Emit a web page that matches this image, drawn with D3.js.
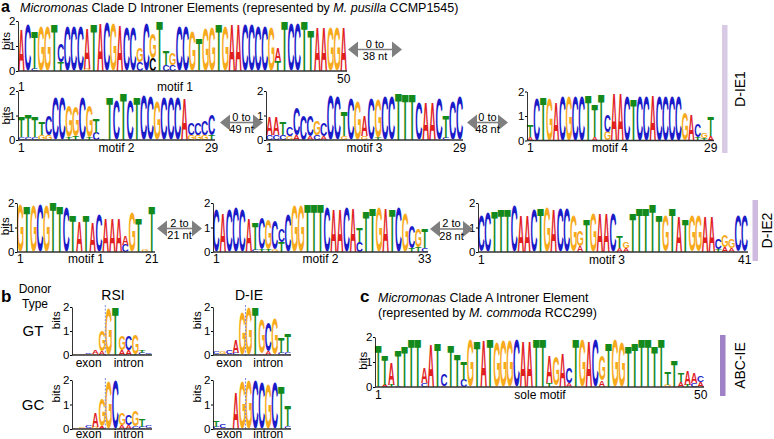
<!DOCTYPE html>
<html><head><meta charset="utf-8">
<script src="https://cdn.jsdelivr.net/npm/d3@7"></script>
<style>
body{margin:0;background:#fff}
svg{display:block}
</style>
</head><body>
<svg id="chart" width="774" height="439"></svg>
<script>
// ---------------- DATA (each column: "<letter><bits>" tokens; "*" = letter drawn in black) ----------------
const dIE1Motif1 = ["A1.65","C1.85","T1.5 C.1","G1.8","G1.8","T1.85","C.75 T.35","C1.8","C1.8","C1.8",
 "A1.6 G.1","T1.85","A1.9","C1.95","G1.9","A1.8","C1.75","C1.75","G.6 C.35","C1.9",
 "G1.0 C*.5","T1.95","T.55 C.25","G.45 C.25","C1.8","C1.8","G1.6","T1.25 G.06","G1.7","G1.75",
 "T1.85","G1.8","A1.85","A1.85","C1.85","C1.85","C1.8","C1.8","G1.75","A.5 T.4",
 "T1.95","C1.9","C1.9","T1.95","T1.6","A1.75","A1.75","G1.75","G1.75","A1.75"];
const dIE1Motif2 = ["T.85 C.12","T.9 C.12","T.85 C.12","T.55 G.2","C.8 G.2","C1.7","C1.7","G1.3 T.1","G1.25 T.15","C1.7",
 "G1.3 T.1","T.6 C.3","T.05","T1.75","C1.6","T1.9","C1.6","T1.75","C1.8","C1.75",
 "G1.55","C1.7","C1.7","C1.7","A1.7","C.5 G.2","C.5 G.2","C.6 G.2","C.85 T.2"];
const dIE1Motif3 = ["A.75 C.2","A.75 C.2","T.55 C.2","C.35 G.15","C1.15 A.2","C1.0","C.85 A.15","G.6 C.2","C.55 A.15","C1.8",
 "C1.75","T1.0 G.15","C1.65","G1.55","A.85 G.15","C1.65","G1.55 T.1","C1.75","C1.75","T1.9",
 "T1.85","T1.85","C1.5","A1.55","A1.55","C1.65","T.9 C.1","C1.55","C1.75"];
const dIE1Motif4 = ["T.45 A.15","C1.7","T1.8","G1.7","A1.6","C1.85","G1.8","C1.85","C1.85","T1.85",
 "T1.3 A.15","T1.9","C.7 G.35","A1.95","A1.95","C1.85","T1.7","C1.85","C1.85","A1.85",
 "C1.85","C1.85","C1.85","C1.85","G1.15","A1.05","C.55 T.15","G.2 T.1","T.8 A.2"];
const dIE2Motif1 = ["G1.95","T1.85","G1.9","C1.95","G1.9","T2.0","T1.85","C1.8","T1.5","A1.2 G.05",
 "T1.5","A1.2","C1.5","A1.35","A1.35","A1.35","A.35 C.3","G1.6","T1.35","G.1","T1.85"];
const dIE2Motif2 = ["C1.7","A1.6","C1.7","C1.8","C1.7","A1.4","T1.1 C.1","C1.3 T.1","G1.25 T.1","C1.2 G.1",
 "C.55 T.4","C1.5","G1.9","G1.9","T1.95","T1.95","T1.95","C1.85","A1.75","A1.75",
 "C1.85","A1.8","T.6 C.4","T1.65","T1.8","G1.8","A1.8","T1.75","C1.8","G1.55",
 "C.9 T.15","G.75 T.2","T.8 C.15"];
const dIE2Motif3 = ["C1.45","C1.6","T1.65","T1.75","T1.75","C1.9","A1.5","A1.5","C1.7","T1.8",
 "G1.85","A1.75","C1.75","C1.75","G1.45","G.65 A.25","T1.3","G1.55","A1.6","A1.6",
 "C1.55","T.45 A.15","G.25 A.15","T1.6","T1.8","T1.8","T1.95","T1.5","G1.45","T1.8",
 "A1.45","T1.3","G1.45","G1.45","A1.45","A1.45","C.4 T.1","G.5 A.2","G.35 A.15","C1.45",
 "C1.45"];
const rsiGT = ["G.03","A.04","C.05 G.03","A.15 G.05","G.85 A.15","G1.9","T2.0","G.6 A.2","C.6 A.2","G.8 T.05","T.12 C.08","C.06 T.03"];
const dieGT = ["C.08 T.05","G.1 C.05","C.15 A.05","A.55 C.1","G1.75","G1.95","T2.0","G1.45 A.05","C1.2 A.15","G1.5","T.65 C.1","T.75 C.12"];
const rsiGC = ["A.03","G.05 A.03","C.1 A.05","A.6 G.1","G1.15 A.1","G1.95","C2.0","G.5 A.15","C.45 A.15","G.65 C.1","T.3 C.1","C.12 A.05"];
const dieGC = ["T.25 C.1","C.15 A.05","C.05","A1.5","G1.95","G2.0","C2.0","C1.9","G1.85","C1.9","T1.75","T.85 C.12"];
const abcIE = ["T1.65","T1.2 A.1","A.9 T.1","T1.4 C.05","T1.6","T1.9","T1.9","A.6 C.15","A1.7","T1.75",
 "C.45 A.05","T1.65","T1.3","T.7 C.3","G1.9","T1.8","A1.85","T1.9","G1.8","G1.85",
 "G1.85","C1.9","A1.8","A1.8","T1.9","T1.9","A1.1 T.15","G1.15 A.05","A1.35","C.65 A.15",
 "T1.9","G1.9","A1.8","C1.9","G1.0 A.25","T1.75","G1.9","G1.8","T1.6","T1.75",
 "T1.9","T1.9","T1.6","T1.9","T.5 G.1","T1.05","T.35 A.2","A.55 T.1","A.4 C.15","C.25 A.2"];
const bitTicks = [0, 1, 2];
const gapLabels = [["0 to","38 nt"],["0 to","49 nt"],["0 to","48 nt"],["2 to","21 nt"],["2 to","28 nt"]];

// ---------------- RENDERING ----------------
const FONT = "'Liberation Sans', Arial, Helvetica, sans-serif";
const colors = {A:"#e0201e", C:"#1a1ac8", G:"#f7aa1c", T:"#148a1c"};
const svg = d3.select("#chart");
svg.append("rect").attr("width",774).attr("height",439).attr("fill","#fff");

const ctx = document.createElement("canvas").getContext("2d");
ctx.font = "bold 100px " + FONT;
const metrics = {};
"ACGT".split("").forEach(l => {
  const m = ctx.measureText(l);
  metrics[l] = {l:m.actualBoundingBoxLeft, r:m.actualBoundingBoxRight, a:m.actualBoundingBoxAscent, d:m.actualBoundingBoxDescent};
});

function parseCol(s){
  return s.split(" ").map(t => {
    const black = t[1] === "*";
    return {letter:t[0], black, bits:+t.slice(black ? 2 : 1)};
  }).sort((a,b)=>a.bits-b.bits);
}

function txt(g, s, x, y, size, opts={}){
  const t = g.append("text").attr("x",x).attr("y",y).attr("font-family",FONT)
    .attr("font-size",size).attr("fill",opts.fill||"#000")
    .attr("text-anchor",opts.anchor||"start").text(s);
  if(opts.weight) t.attr("font-weight",opts.weight);
  if(opts.style) t.attr("font-style",opts.style);
  return t;
}

function drawLogo(cfg){
  const n = cfg.cols.length;
  const g = svg.append("g");
  const x = d3.scaleBand().domain(d3.range(n)).range([cfg.x0, cfg.x1]).paddingInner(0.03).paddingOuter(0.02);
  const y = d3.scaleLinear().domain([0,2]).range([cfg.base, cfg.top]);
  const w = x.bandwidth();
  cfg.cols.map(parseCol).forEach((st,i) => {
    let acc = 0;
    st.forEach(s => {
      const y0 = y(acc), y1 = y(acc + s.bits);
      acc += s.bits;
      const h = y0 - y1;
      if (h < 0.5) return;
      const m = metrics[s.letter];
      const sx = w/(m.l+m.r), sy = h/(m.a+m.d);
      g.append("text").text(s.letter)
        .attr("font-family",FONT).attr("font-weight","bold").attr("font-size",100)
        .attr("fill",s.black ? "#000" : colors[s.letter])
        .attr("transform",`translate(${x(i)+m.l*sx},${y0-m.d*sy}) scale(${sx},${sy})`);
    });
  });
  if (cfg.split != null){
    const xs = cfg.x0 + (cfg.x1-cfg.x0)*cfg.split/n;
    g.append("line").attr("x1",xs).attr("x2",xs).attr("y1",y(2.08)).attr("y2",cfg.base+1)
      .attr("stroke","#7c86dc").attr("stroke-width",1).attr("stroke-dasharray","2,1.5");
  }
  const ax = g.append("g").attr("transform",`translate(${cfg.x0},0)`)
    .call(d3.axisLeft(y).tickValues(bitTicks).tickFormat(d3.format("d")).tickSize(2).tickSizeOuter(0).tickPadding(0.5));
  ax.selectAll("text").attr("font-size",11.5).attr("font-family",FONT).attr("fill","#000");
  ax.selectAll("line").attr("stroke","#000");
  ax.select(".domain").attr("stroke","#000").attr("stroke-width",0.8);
  g.append("line").attr("x1",cfg.x0).attr("x2",cfg.x1).attr("y1",cfg.base).attr("y2",cfg.base)
    .attr("stroke","#333").attr("stroke-width",1.6);
  if (cfg.bitsY != null){
    g.append("text").text("bits").attr("font-family",FONT).attr("font-size",11.5).attr("text-anchor","middle")
      .attr("transform",`translate(${cfg.x0-(cfg.bitsDx||8)},${y(cfg.bitsY)}) rotate(-90)`);
  }
  if (cfg.name){
    txt(g, "1", x(0)+w/2, cfg.labY, 12, {anchor:"middle"});
    txt(g, cfg.name, cfg.nameX != null ? cfg.nameX : (cfg.x0+cfg.x1)/2, cfg.labY, 12, {anchor:"middle"});
    txt(g, String(n), x(n-1)+w/2, cfg.endY != null ? cfg.endY : cfg.labY, 12, {anchor:"middle"});
  }
  if (cfg.exon){
    const xe = cfg.x0 + (cfg.x1-cfg.x0)*cfg.split/n;
    txt(g, "exon", (cfg.x0+xe)/2, cfg.exon, 12, {anchor:"middle"});
    txt(g, "intron", (xe+cfg.x1)/2, cfg.exon, 12, {anchor:"middle"});
  }
}

function drawArrow(xa, xb, cy, labels){
  const g = svg.append("g");
  const col = "#7f7f7f", hw = 10, hh = 8;
  g.append("line").attr("x1",xa+hw-1).attr("x2",xb-hw+1).attr("y1",cy).attr("y2",cy).attr("stroke",col).attr("stroke-width",1.6);
  g.append("path").attr("d",`M${xa},${cy}L${xa+hw},${cy-hh}L${xa+hw},${cy+hh}Z`).attr("fill",col);
  g.append("path").attr("d",`M${xb},${cy}L${xb-hw},${cy-hh}L${xb-hw},${cy+hh}Z`).attr("fill",col);
  txt(g, labels[0], (xa+xb)/2, cy-1.8, 11, {anchor:"middle"});
  txt(g, labels[1], (xa+xb)/2, cy+10.5, 11, {anchor:"middle"});
}

function sideBar(x, y0, y1, color, label, lx){
  svg.append("rect").attr("x",x).attr("y",y0).attr("width",5.5).attr("height",y1-y0).attr("fill",color);
  svg.append("text").text(label).attr("font-family",FONT).attr("font-size",14).attr("text-anchor","middle")
    .attr("transform",`translate(${lx},${(y0+y1)/2}) rotate(-90)`);
}

// ---- Panel a ----
const ta = txt(svg, "", 20, 11.5, 12.5);
ta.append("tspan").attr("font-style","italic").text("Micromonas");
ta.append("tspan").text(" Clade D Introner Elements (represented by ");
ta.append("tspan").attr("font-style","italic").text("M. pusilla");
ta.append("tspan").text(" CCMP1545)");
txt(svg, "a", 1, 11.5, 16, {weight:"bold"});

drawLogo({cols:dIE1Motif1, x0:18, x1:347, base:71, top:21, bitsY:1.2, name:"motif 1", nameX:175, labY:91, endY:83});
drawLogo({cols:dIE1Motif2, x0:18, x1:215, base:140, top:91, bitsY:1.0, name:"motif 2", labY:151.5});
drawLogo({cols:dIE1Motif3, x0:266, x1:463, base:140, top:91, name:"motif 3", labY:151.5});
drawLogo({cols:dIE1Motif4, x0:527, x1:714, base:140.5, top:91.5, name:"motif 4", nameX:610, labY:152});
drawLogo({cols:dIE2Motif1, x0:17, x1:155, base:252, top:203, bitsY:1.05, name:"motif 1", labY:263});
drawLogo({cols:dIE2Motif2, x0:213, x1:428, base:252, top:203, name:"motif 2", labY:263});
drawLogo({cols:dIE2Motif3, x0:478, x1:748, base:252, top:203, name:"motif 3", nameX:607, labY:263.5});

drawArrow(348, 402, 49.5, gapLabels[0]);
drawArrow(220, 263, 122.5, gapLabels[1]);
drawArrow(467, 508, 122.5, gapLabels[2]);
drawArrow(157, 202, 228.5, gapLabels[3]);
drawArrow(430, 473, 229, gapLabels[4]);

sideBar(722, 25, 153, "#d8cae5", "D-IE1", 745);
sideBar(752.5, 200, 261, "#cfbbe0", "D-IE2", 772);

// ---- Panel b ----
txt(svg, "b", 1, 302, 17, {weight:"bold"});
txt(svg, "Donor", 35, 293, 12, {anchor:"middle"});
txt(svg, "Type", 35, 308, 12, {anchor:"middle"});
txt(svg, "RSI", 113, 300, 14, {anchor:"middle"});
txt(svg, "D-IE", 249, 300, 14, {anchor:"middle"});
txt(svg, "GT", 33, 336, 15, {anchor:"middle"});
txt(svg, "GC", 33, 410, 15, {anchor:"middle"});
drawLogo({cols:rsiGT, x0:72, x1:152, base:355, top:307, bitsY:1.45, bitsDx:12, split:5, exon:367});
drawLogo({cols:dieGT, x0:213, x1:291, base:355, top:307, bitsY:1.45, bitsDx:12, split:5, exon:367});
drawLogo({cols:rsiGC, x0:72, x1:152, base:429, top:380, bitsY:1.45, bitsDx:12, split:5, exon:438});
drawLogo({cols:dieGC, x0:213, x1:291, base:429, top:380, bitsY:1.45, bitsDx:12, split:5, exon:438});

// ---- Panel c ----
txt(svg, "c", 360, 302, 17, {weight:"bold"});
const tc1 = txt(svg, "", 378, 302, 12.5);
tc1.append("tspan").attr("font-style","italic").text("Micromonas");
tc1.append("tspan").text(" Clade A Introner Element");
const tc2 = txt(svg, "", 378, 317, 12.5);
tc2.append("tspan").text("(represented by ");
tc2.append("tspan").attr("font-style","italic").text("M. commoda");
tc2.append("tspan").text(" RCC299)");
drawLogo({cols:abcIE, x0:375, x1:704, base:387, top:337, bitsY:1.05, name:"sole motif", nameX:540, labY:399});
sideBar(720, 335, 396, "#9f82c6", "ABC-IE", 745);
</script>
</body></html>
